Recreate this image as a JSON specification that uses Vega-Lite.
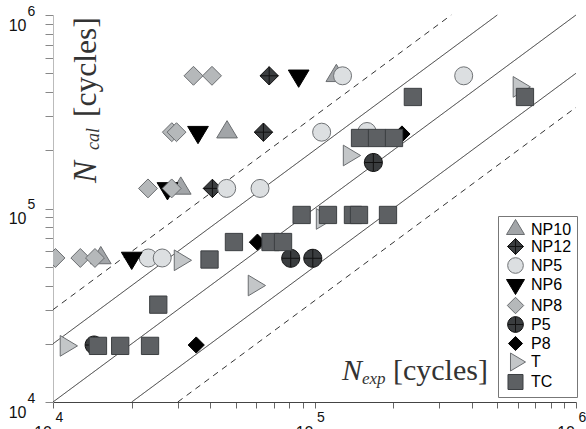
{
  "$schema": "https://vega.github.io/schema/vega-lite/v6.json",
  "width": 523,
  "height": 387,
  "autosize": {"type": "none"},
  "padding": {"left": 53, "top": 15, "right": 10, "bottom": 27},
  "config": {"view": {"stroke": null}, "axis": {"labelFont": "Liberation Sans", "labelColor": "#111"}},
  "datasets": {
    "lines": [
      {"id": "a", "kind": "dashed", "x": 10000, "y": 30000},
      {"id": "a", "kind": "dashed", "x": 333333, "y": 1000000},
      {"id": "b", "kind": "solid", "x": 10000, "y": 20000},
      {"id": "b", "kind": "solid", "x": 500000, "y": 1000000},
      {"id": "c", "kind": "solid", "x": 10000, "y": 10000},
      {"id": "c", "kind": "solid", "x": 1000000, "y": 1000000},
      {"id": "d", "kind": "solid", "x": 20000, "y": 10000},
      {"id": "d", "kind": "solid", "x": 1000000, "y": 500000},
      {"id": "e", "kind": "dashed", "x": 30000, "y": 10000},
      {"id": "e", "kind": "dashed", "x": 1000000, "y": 333333}
    ],
    "points": [
      {"series": "NP10", "x": 121200, "y": 485000},
      {"series": "NP10", "x": 46300, "y": 248000},
      {"series": "NP10", "x": 30800, "y": 127000},
      {"series": "NP10", "x": 15230, "y": 55500},
      {"series": "NP12", "x": 67100, "y": 485000},
      {"series": "NP12", "x": 63800, "y": 248000},
      {"series": "NP12", "x": 40700, "y": 127000},
      {"series": "NP5", "x": 128000, "y": 485000},
      {"series": "NP5", "x": 372000, "y": 485000},
      {"series": "NP5", "x": 106500, "y": 248000},
      {"series": "NP5", "x": 158800, "y": 250000},
      {"series": "NP5", "x": 46150, "y": 127000},
      {"series": "NP5", "x": 61900, "y": 127000},
      {"series": "NP5", "x": 23140, "y": 55500},
      {"series": "NP5", "x": 26160, "y": 55500},
      {"series": "NP6", "x": 87000, "y": 485000},
      {"series": "NP6", "x": 35850, "y": 248000},
      {"series": "NP6", "x": 27400, "y": 127000},
      {"series": "NP6", "x": 20000, "y": 55500},
      {"series": "NP8", "x": 34450, "y": 485000},
      {"series": "NP8", "x": 40550, "y": 485000},
      {"series": "NP8", "x": 28470, "y": 248000},
      {"series": "NP8", "x": 29670, "y": 248000},
      {"series": "NP8", "x": 23080, "y": 127000},
      {"series": "NP8", "x": 28440, "y": 127000},
      {"series": "NP8", "x": 10220, "y": 55500},
      {"series": "NP8", "x": 12720, "y": 55500},
      {"series": "NP8", "x": 14470, "y": 55500},
      {"series": "P5", "x": 167900, "y": 172900},
      {"series": "P5", "x": 81100, "y": 55300},
      {"series": "P5", "x": 98500, "y": 55300},
      {"series": "P5", "x": 14360, "y": 19700},
      {"series": "P8", "x": 216000, "y": 242700},
      {"series": "P8", "x": 60500, "y": 67000},
      {"series": "P8", "x": 35300, "y": 19700},
      {"series": "T", "x": 605000, "y": 425000},
      {"series": "T", "x": 135600, "y": 187900},
      {"series": "T", "x": 106900, "y": 88300},
      {"series": "T", "x": 58700, "y": 40000},
      {"series": "T", "x": 30600, "y": 54000},
      {"series": "T", "x": 11210, "y": 19500},
      {"series": "TC", "x": 638000, "y": 377000},
      {"series": "TC", "x": 237800, "y": 377000},
      {"series": "TC", "x": 149300, "y": 231400},
      {"series": "TC", "x": 173400, "y": 231400},
      {"series": "TC", "x": 201400, "y": 231400},
      {"series": "TC", "x": 89300, "y": 92600},
      {"series": "TC", "x": 112600, "y": 92600},
      {"series": "TC", "x": 140300, "y": 92600},
      {"series": "TC", "x": 148000, "y": 92600},
      {"series": "TC", "x": 191000, "y": 92600},
      {"series": "TC", "x": 49200, "y": 67100},
      {"series": "TC", "x": 67900, "y": 67100},
      {"series": "TC", "x": 75800, "y": 67100},
      {"series": "TC", "x": 39680, "y": 54500},
      {"series": "TC", "x": 25270, "y": 31850},
      {"series": "TC", "x": 14860, "y": 19500},
      {"series": "TC", "x": 18070, "y": 19500},
      {"series": "TC", "x": 23500, "y": 19500}
    ]
  },
  "layer": [
    {
      "data": {"name": "lines"},
      "mark": {"type": "line", "color": "#333", "strokeWidth": 1},
      "encoding": {
        "x": {"field": "x", "type": "quantitative", "scale": {"type": "log", "domain": [10000, 1000000], "nice": false},
          "axis": {"orient": "bottom", "title": null, "grid": false,
            "values": [10000, 20000, 30000, 40000, 50000, 60000, 70000, 80000, 90000, 100000, 200000, 300000, 400000, 500000, 600000, 700000, 800000, 900000, 1000000],
            "labelExpr": "datum.value == 10000 || datum.value == 100000 || datum.value == 1000000 ? '10' : ''",
            "labelFontSize": 16, "labelAlign": "right", "labelBaseline": "top", "labelOffset": -1.5, "labelPadding": 16,
            "labelFlush": false, "labelOverlap": false, "labelBound": false,
            "domainColor": "#444", "domainWidth": 1, "tickColor": "#666", "tickSize": 6, "tickWidth": 1}},
        "y": {"field": "y", "type": "quantitative", "scale": {"type": "log", "domain": [10000, 1000000], "nice": false},
          "axis": {"orient": "left", "title": null, "grid": false,
            "values": [10000, 20000, 30000, 40000, 50000, 60000, 70000, 80000, 90000, 100000, 200000, 300000, 400000, 500000, 600000, 700000, 800000, 900000, 1000000],
            "labelExpr": "datum.value == 10000 || datum.value == 100000 || datum.value == 1000000 ? '10' : ''",
            "labelFontSize": 16, "labelAlign": "right", "labelBaseline": "middle", "labelOffset": 10, "labelPadding": 19,
            "labelFlush": false, "labelOverlap": false, "labelBound": false,
            "domainColor": "#bbb", "domainWidth": 1, "tickColor": "#888", "tickSize": 8, "tickWidth": 1}},
        "detail": {"field": "id", "type": "nominal"},
        "strokeDash": {"field": "kind", "type": "nominal", "scale": {"domain": ["solid", "dashed"], "range": [[1, 0], [6, 5]]}, "legend": null}
      }
    },
    {
      "data": {"name": "points"},
      "mark": {"type": "point", "filled": true, "size": 324, "opacity": 1, "strokeWidth": 1, "clip": true},
      "encoding": {
        "x": {"field": "x", "type": "quantitative", "scale": {"type": "log", "domain": [10000, 1000000], "nice": false},
          "axis": {"orient": "bottom", "title": null, "grid": false, "values": [10000, 100000, 1000000],
            "labelExpr": "datum.value == 10000 ? '4' : datum.value == 100000 ? '5' : '6'",
            "labelFontSize": 14, "labelAlign": "left", "labelBaseline": "middle", "labelOffset": 2, "labelPadding": 15,
            "domain": false, "ticks": false, "tickSize": 0, "labelFlush": false, "labelOverlap": false, "labelBound": false}},
        "y": {"field": "y", "type": "quantitative", "scale": {"type": "log", "domain": [10000, 1000000], "nice": false},
          "axis": {"orient": "left", "title": null, "grid": false, "values": [10000, 100000, 1000000],
            "labelExpr": "datum.value == 10000 ? '4' : datum.value == 100000 ? '5' : '6'",
            "labelFontSize": 14, "labelAlign": "left", "labelBaseline": "middle", "labelOffset": -4, "labelPadding": 26,
            "domain": false, "ticks": false, "tickSize": 0, "labelFlush": false, "labelOverlap": false, "labelBound": false}},
        "fill": {"field": "series", "type": "nominal",
          "scale": {"domain": ["NP10", "NP12", "NP5", "NP6", "NP8", "P5", "P8", "T", "TC"],
            "range": ["#a2a5a8", "#3b3e40", "#dcdfe1", "#000000", "#b5b8ba", "#3a3d3f", "#000000", "#c3c6c8", "#5d6063"]},
          "legend": {"orient": "none", "legendX": 445, "legendY": 201, "title": null, "padding": 5,
            "strokeColor": "#777", "fillColor": "#ffffff", "symbolStrokeWidth": 1, "symbolSize": 245,
            "labelFont": "Liberation Sans", "labelFontSize": 16, "labelColor": "#000", "labelOffset": 7,
            "rowPadding": -2.5, "symbolOffset": 4,
            "encode": {"symbols": {"update": {"strokeJoin": {"value": "round"}}}}}},
        "stroke": {"field": "series", "type": "nominal",
          "scale": {"domain": ["NP10", "NP12", "NP5", "NP6", "NP8", "P5", "P8", "T", "TC"],
            "range": ["#6a6d70", "#111111", "#6f7275", "#000000", "#6a6d70", "#111111", "#000000", "#6a6d70", "#3c3f42"]}},
        "shape": {"field": "series", "type": "nominal",
          "scale": {"domain": ["NP10", "NP12", "NP5", "NP6", "NP8", "P5", "P8", "T", "TC"],
            "range": [
              "M0,-1.28L1.15,0.64L-1.15,0.64Z",
              "M0,-1.02L1.02,0L0,1.02L-1.02,0Z M-1.02,0L1.02,0 M0,-1.02L0,1.02",
              "circle",
              "M0,1.28L1.15,-0.64L-1.15,-0.64Z",
              "M0,-1.05L1.05,0L0,1.05L-1.05,0Z",
              "M1,0A1,1,0,1,1,-1,0A1,1,0,1,1,1,0Z M-1,0L1,0 M0,-1L0,1",
              "M0,-0.9L0.9,0L0,0.9L-0.9,0Z",
              "M1.28,0L-0.64,1.15L-0.64,-1.15Z",
              "M-0.96,-0.96L0.96,-0.96L0.96,0.96L-0.96,0.96Z"
            ]}}
      }
    },
    {
      "data": {"values": [{"t": "N", "x": 14600, "y": 135500}]},
      "mark": {"type": "text", "font": "Liberation Serif", "fontStyle": "italic", "fontSize": 33, "angle": 270, "align": "left", "baseline": "alphabetic", "color": "#333"},
      "encoding": {
        "text": {"field": "t"},
        "x": {"field": "x", "type": "quantitative", "scale": {"type": "log", "domain": [10000, 1000000], "nice": false}, "axis": null},
        "y": {"field": "y", "type": "quantitative", "scale": {"type": "log", "domain": [10000, 1000000], "nice": false}, "axis": null}
      }
    },
    {
      "data": {"values": [{"t": "cal", "x": 14990, "y": 200600}]},
      "mark": {"type": "text", "font": "Liberation Serif", "fontStyle": "italic", "fontSize": 18, "angle": 270, "align": "left", "baseline": "alphabetic", "color": "#333"},
      "encoding": {
        "text": {"field": "t"},
        "x": {"field": "x", "type": "quantitative", "scale": {"type": "log", "domain": [10000, 1000000], "nice": false}, "axis": null},
        "y": {"field": "y", "type": "quantitative", "scale": {"type": "log", "domain": [10000, 1000000], "nice": false}, "axis": null}
      }
    },
    {
      "data": {"values": [{"t": "[cycles]", "x": 14600, "y": 297100}]},
      "mark": {"type": "text", "font": "Liberation Serif", "fontSize": 31.5, "angle": 270, "align": "left", "baseline": "alphabetic", "color": "#333"},
      "encoding": {
        "text": {"field": "t"},
        "x": {"field": "x", "type": "quantitative", "scale": {"type": "log", "domain": [10000, 1000000], "nice": false}, "axis": null},
        "y": {"field": "y", "type": "quantitative", "scale": {"type": "log", "domain": [10000, 1000000], "nice": false}, "axis": null}
      }
    },
    {
      "data": {"values": [{"t": "N", "x": 127400, "y": 12990}]},
      "mark": {"type": "text", "font": "Liberation Serif", "fontStyle": "italic", "fontSize": 30, "align": "left", "baseline": "alphabetic", "color": "#333"},
      "encoding": {
        "text": {"field": "t"},
        "x": {"field": "x", "type": "quantitative", "scale": {"type": "log", "domain": [10000, 1000000], "nice": false}, "axis": null},
        "y": {"field": "y", "type": "quantitative", "scale": {"type": "log", "domain": [10000, 1000000], "nice": false}, "axis": null}
      }
    },
    {
      "data": {"values": [{"t": "exp", "x": 151900, "y": 12390}]},
      "mark": {"type": "text", "font": "Liberation Serif", "fontStyle": "italic", "fontSize": 17, "align": "left", "baseline": "alphabetic", "color": "#333"},
      "encoding": {
        "text": {"field": "t"},
        "x": {"field": "x", "type": "quantitative", "scale": {"type": "log", "domain": [10000, 1000000], "nice": false}, "axis": null},
        "y": {"field": "y", "type": "quantitative", "scale": {"type": "log", "domain": [10000, 1000000], "nice": false}, "axis": null}
      }
    },
    {
      "data": {"values": [{"t": "[cycles]", "x": 199500, "y": 12990}]},
      "mark": {"type": "text", "font": "Liberation Serif", "fontSize": 30, "align": "left", "baseline": "alphabetic", "color": "#333"},
      "encoding": {
        "text": {"field": "t"},
        "x": {"field": "x", "type": "quantitative", "scale": {"type": "log", "domain": [10000, 1000000], "nice": false}, "axis": null},
        "y": {"field": "y", "type": "quantitative", "scale": {"type": "log", "domain": [10000, 1000000], "nice": false}, "axis": null}
      }
    }
  ],
  "resolve": {"axis": {"x": "independent", "y": "independent"}}
}
